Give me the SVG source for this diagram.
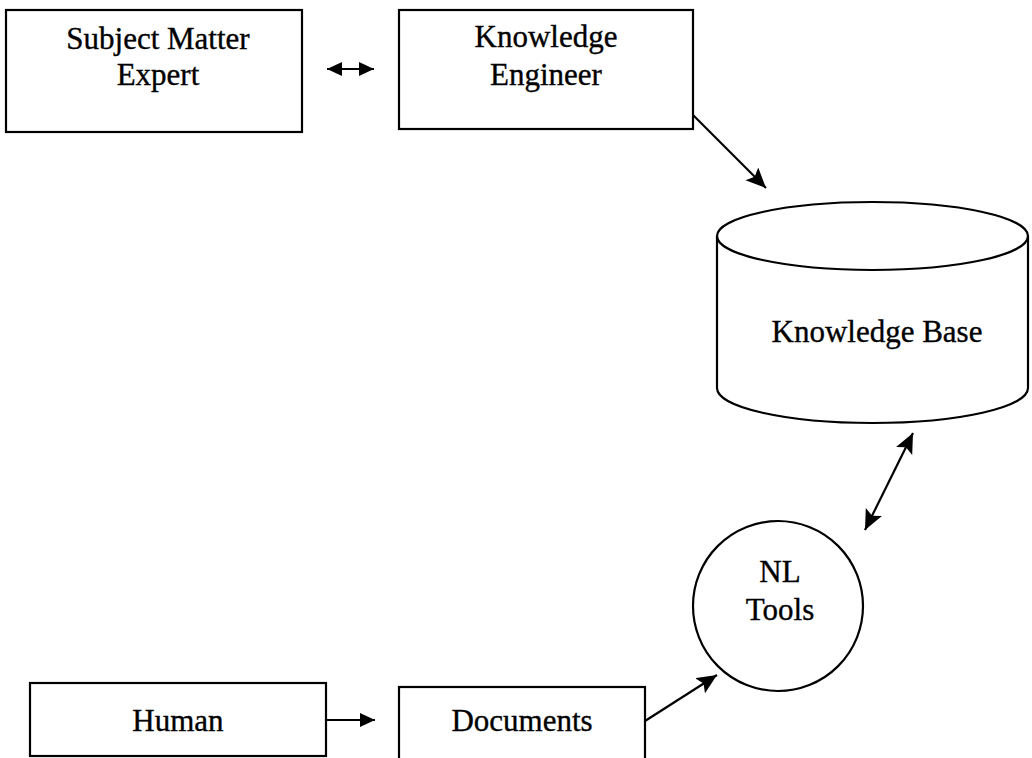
<svg xmlns="http://www.w3.org/2000/svg" width="1032" height="758" viewBox="0 0 1032 758">
<style>
.box{fill:#fff;stroke:#000;stroke-width:2.2}
.lbl{font-family:"Liberation Serif","Times New Roman",serif;font-size:31px;fill:#000;stroke:#000;stroke-width:0.35;text-anchor:middle}
.con{stroke:#000;stroke-width:2.2;fill:none}
</style>
<defs>
<marker id="ah" markerUnits="userSpaceOnUse" markerWidth="24" markerHeight="20" refX="20" refY="9" orient="auto-start-reverse">
<path d="M0,0 L20,9 L0,18 L4,9 Z" fill="#000"/>
</marker>
<marker id="ahs" markerUnits="userSpaceOnUse" markerWidth="18" markerHeight="16" refX="15" refY="7" orient="auto-start-reverse">
<path d="M0,0 L15,7 L0,14 Z" fill="#000"/>
</marker>
</defs>
<rect width="1032" height="758" fill="#fff"/>
<g id="connectors">
<line class="con" x1="327" y1="69" x2="374" y2="69" marker-start="url(#ahs)" marker-end="url(#ahs)"/>
<line class="con" x1="693" y1="115" x2="766" y2="188" marker-end="url(#ah)"/>
<line class="con" x1="913" y1="433" x2="865" y2="530" marker-start="url(#ah)" marker-end="url(#ah)"/>
<line class="con" x1="326" y1="720" x2="375" y2="720" marker-end="url(#ahs)"/>
<line class="con" x1="645" y1="721" x2="717" y2="675" marker-end="url(#ah)"/>
</g>
<g id="sme">
<rect class="box" x="6" y="10" width="296" height="122"/>
<text class="lbl" x="158" y="49">Subject Matter</text>
<text class="lbl" x="158" y="85">Expert</text>
</g>
<g id="ke">
<rect class="box" x="399" y="10" width="294" height="119"/>
<text class="lbl" x="546" y="47">Knowledge</text>
<text class="lbl" x="546" y="85">Engineer</text>
</g>
<g id="kb">
<path class="box" d="M717,236 L717,388 A155.5,35 0 0 0 1028,388 L1028,236 A155.5,34 0 0 0 717,236 Z"/>
<path class="con" d="M717,236 A155.5,34 0 0 0 1028,236"/>
<text class="lbl" x="877" y="342">Knowledge Base</text>
</g>
<g id="nl">
<circle class="box" cx="778" cy="606" r="85"/>
<text class="lbl" x="780" y="582">NL</text>
<text class="lbl" x="780" y="620">Tools</text>
</g>
<g id="human">
<rect class="box" x="30" y="683" width="296" height="73"/>
<text class="lbl" x="178" y="731">Human</text>
</g>
<g id="documents">
<rect class="box" x="399" y="687" width="246" height="90"/>
<text class="lbl" x="522" y="731">Documents</text>
</g>
</svg>
